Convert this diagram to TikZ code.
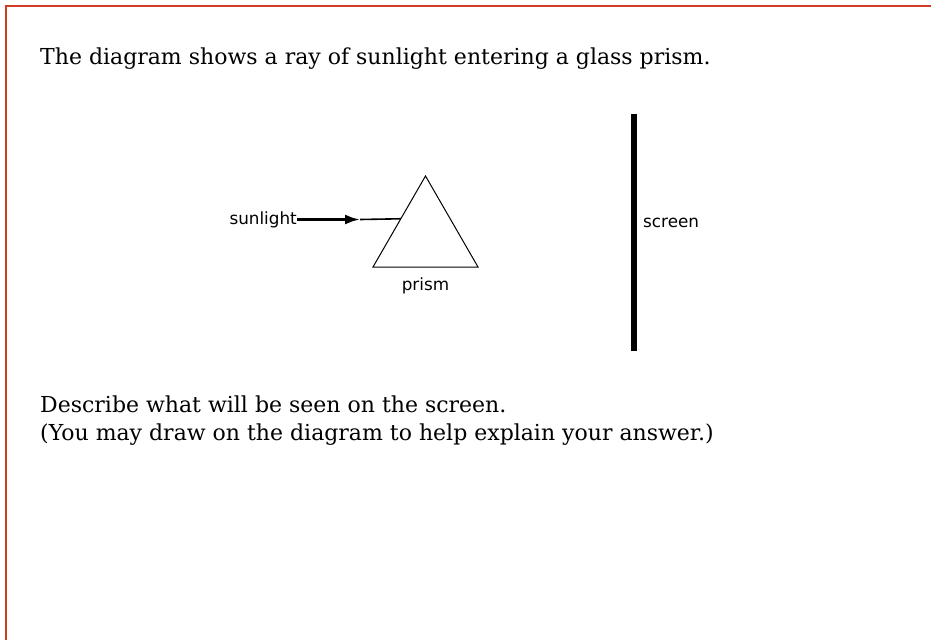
\documentclass[tikz,border=0pt]{standalone}
\usepackage{fontspec}
\usepackage{xcolor}
\usetikzlibrary{arrows.meta,positioning,calc}
\setmainfont{DejaVu Serif}
\newfontfamily\labelfont{DejaVu Sans}
\definecolor{Frame}{HTML}{CF3B25}
\definecolor{Ink}{HTML}{000000}
\tikzset{
  qtext/.style={anchor=base west,inner sep=0pt,font=\fontsize{22}{26}\selectfont,text=Ink},
  lbl/.style={inner sep=0pt,font=\labelfont\fontsize{16.8}{20}\selectfont,text=Ink},
  ray/.style={-{Latex[length=15pt,width=10pt]},line width=2.6pt},
  raythin/.style={line width=1.6pt},
  glass/.style={draw,line width=1pt},
  wall/.style={line width=6pt}
}

\begin{document}
\begin{tikzpicture}[x=1pt,y=-1pt]
  \useasboundingbox (0,0) rectangle (931,640);
  % frame, top and left only
  \draw[Frame,line width=2.2pt] (6,640) -- (6,6) -- (931,6);
  \node[qtext] (q1) at (40,64) {The diagram shows a ray of sunlight entering a glass prism.};
  % prism
  \coordinate (apex) at (425.5,176);
  \coordinate (bl) at (373,267);
  \coordinate (br) at (478,267);
  \draw[glass] (apex) -- (bl) -- (br) -- cycle;
  \node[lbl,anchor=base] (prism) at (425.5,290) {prism};
  % ray
  \node[lbl,anchor=east] (sun) at (297,219.5) {sunlight};
  \coordinate (mid) at (360,219.5);
  \coordinate (hit) at ($(apex)!0.47!(bl)$);
  \draw[ray] (sun.east) -- (mid);
  \draw[raythin] (mid) -- (hit);
  % screen
  \coordinate (stop) at (634,114);
  \coordinate (sbot) at (634,351);
  \draw[wall] (stop) -- (sbot);
  \node[lbl,anchor=west] (screen) at (643,223) {screen};
  \node[qtext] (q2) at (40,412) {Describe what will be seen on the screen.};
  \node[qtext] (q3) at (40,440) {(You may draw on the diagram to help explain your answer.)};
\end{tikzpicture}
\end{document}
